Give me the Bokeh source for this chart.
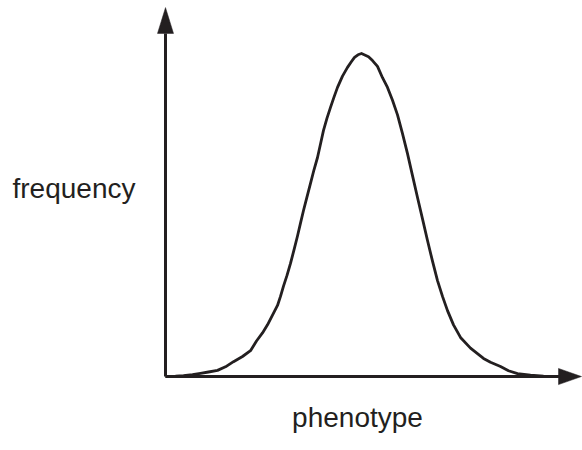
from bokeh.plotting import figure
from bokeh.models import Range1d, Label
from bokeh.embed import file_html
from bokeh.resources import INLINE

# Bell-shaped frequency distribution of a phenotype (peak normalised to 1)
phenotype = [0, 10, 18, 27, 35, 43, 52, 60, 68, 77,
             85, 91, 97, 102, 107, 112, 115, 118, 121.5, 125,
             128.5, 132, 135, 138, 141.5, 145, 148.5, 152, 155, 158,
             161.5, 165, 168.5, 172, 177, 182, 186, 189, 192.5, 196,
             203, 207, 212, 217, 222, 227, 232, 237, 242, 247,
             252, 257, 262, 267, 272, 277, 282, 288, 295, 305,
             318, 325, 335, 343, 352, 365, 378, 395]
frequency = [0.0, 0.001, 0.003, 0.006, 0.010, 0.014, 0.019, 0.030, 0.046, 0.062,
             0.080, 0.110, 0.135, 0.160, 0.190, 0.220, 0.248, 0.280, 0.313, 0.350,
             0.392, 0.435, 0.475, 0.514, 0.556, 0.598, 0.640, 0.678, 0.720, 0.762,
             0.800, 0.833, 0.865, 0.895, 0.930, 0.957, 0.975, 0.988, 0.996, 1.000,
             0.990, 0.978, 0.960, 0.925, 0.895, 0.855, 0.810, 0.752, 0.690, 0.622,
             0.554, 0.488, 0.421, 0.357, 0.297, 0.248, 0.204, 0.160, 0.121, 0.088,
             0.056, 0.044, 0.031, 0.018, 0.009, 0.004, 0.001, 0.0]

x_label = "phenotype"
y_label = "frequency"

INK = "#231f20"
W, H = 582, 450

# axis extents in data units
Y_TOP = 1.142      # tip of the vertical arrow
Y_HEAD = 0.080     # length of the vertical arrowhead
Y_HALF_W = 8.0     # half width of the vertical arrowhead (x units)
X_END = 416.0      # tip of the horizontal arrow
X_HEAD = 23.0      # length of the horizontal arrowhead
X_HALF_W = 0.025   # half width of the horizontal arrowhead (y units)

p = figure(width=W, height=H, output_backend="svg", toolbar_location=None,
           x_range=Range1d(-165, 417), y_range=Range1d(-0.229, 1.164),
           min_border=0, outline_line_color=None)
p.axis.visible = False
p.grid.visible = False
p.background_fill_color = "white"
p.border_fill_color = "white"

# axes with arrowheads
p.line([0, 0], [0, Y_TOP - Y_HEAD], line_color=INK, line_width=3)
p.line([0, X_END - X_HEAD], [0, 0], line_color=INK, line_width=3)
p.patches(
    xs=[[0, -Y_HALF_W, Y_HALF_W], [X_END, X_END - X_HEAD, X_END - X_HEAD]],
    ys=[[Y_TOP, Y_TOP - Y_HEAD, Y_TOP - Y_HEAD], [0, X_HALF_W, -X_HALF_W]],
    fill_color=INK, line_color=INK, line_width=0.5,
)

# distribution curve
p.line(phenotype, frequency, line_color=INK, line_width=2.8, line_join="round")

p.add_layout(Label(x=12, y=H - 188, x_units="screen", y_units="screen",
                   text=y_label, text_font="Liberation Sans", text_font_size="28px",
                   text_color=INK, text_baseline="alphabetic", text_align="left"))
p.add_layout(Label(x=357, y=H - 417, x_units="screen", y_units="screen",
                   text=x_label, text_font="Liberation Sans", text_font_size="28px",
                   text_color=INK, text_baseline="alphabetic", text_align="center"))

open("out.html", "w").write(file_html(p, INLINE))
